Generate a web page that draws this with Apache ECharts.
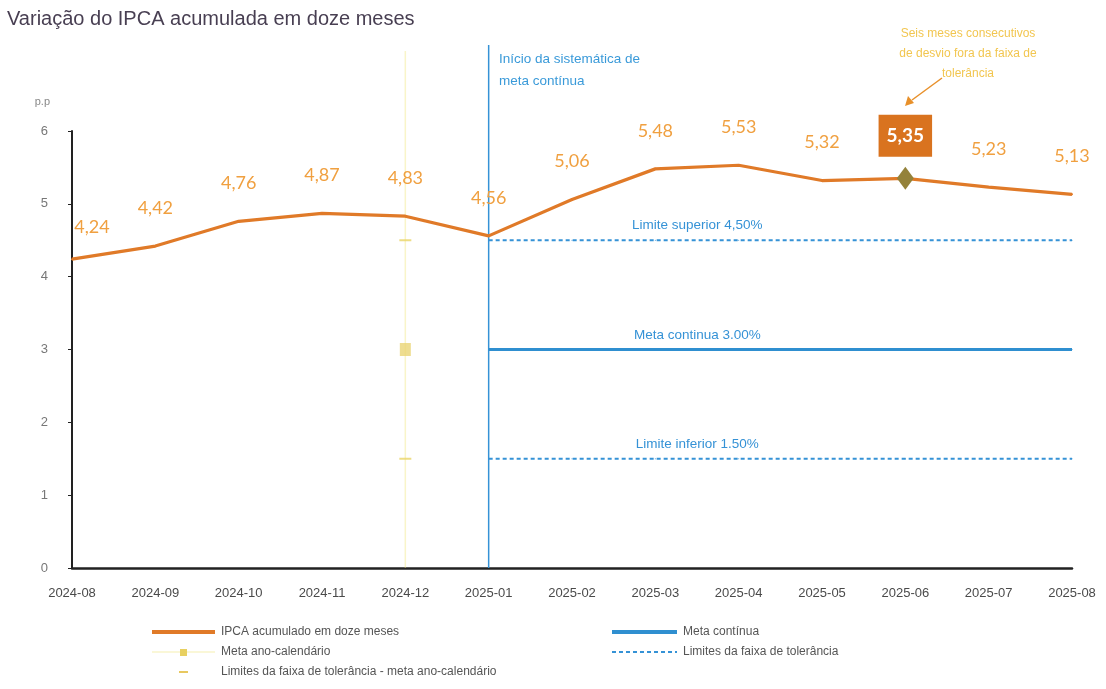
<!DOCTYPE html>
<html><head><meta charset="utf-8">
<script src="https://cdn.jsdelivr.net/npm/echarts@6/dist/echarts.min.js"></script>
<style>html,body{margin:0;padding:0;background:#fff}#c{width:1106px;height:689px}</style>
</head><body><div id="c"></div>
<script>
const categories = ['2024-08','2024-09','2024-10','2024-11','2024-12','2025-01','2025-02','2025-03','2025-04','2025-05','2025-06','2025-07','2025-08'];
const ipca = [4.24,4.42,4.76,4.87,4.83,4.56,5.06,5.48,5.53,5.32,5.35,5.23,5.13];
const metaContinua = [null,null,null,null,null,3,3,3,3,3,3,3,3];
const limiteSuperior = [null,null,null,null,null,4.5,4.5,4.5,4.5,4.5,4.5,4.5,4.5];
const limiteInferior = [null,null,null,null,null,1.5,1.5,1.5,1.5,1.5,1.5,1.5,1.5];
const metaAnoCalendario = [null,null,null,null,3,null,null,null,null,null,null,null,null];
const limitesAnoSup = [null,null,null,null,4.5,null,null,null,null,null,null,null,null];
const limitesAnoInf = [null,null,null,null,1.5,null,null,null,null,null,null,null,null];
const yTicks = {min:0, max:6, interval:1};
const highlightIdx = 10;
const transitionIdx = 5;
const anoCalIdx = 4;
const refLabelIdx = 7;

const ORANGE = '#e07a28', LABEL = '#f0a040', BLUE = '#3592d6', YEL = '#ead466';
const fmt = v => String(v.toFixed(2)).replace('.', ',');

const ipcaData = ipca.map((v,i) => {
  if (i === highlightIdx) return {value:v, symbol:'diamond', symbolSize:[17,23], itemStyle:{color:'#94823a'},
    label:{show:true, formatter:fmt(v), color:'#fff', fontWeight:'bold', fontSize:19, backgroundColor:'#d9731f', padding:[12,8,11,8], distance:10}};
  if (i === 0) return {value:v, label:{offset:[20,6]}};
  return v;
});
function refData(arr, text){
  return arr.map((v,i)=> i===refLabelIdx ? {value:v, label:{show:true, formatter:text, position:'top', offset:[42,-2], color:BLUE, fontSize:13.5, fontFamily:'Liberation Sans'}} : v);
}
function vline(idx, top){ return [[idx,0],[idx,top]]; }

const chart = echarts.init(document.getElementById('c'), null, {renderer:'canvas'});
const legendTxt = {fill:'#555', font:'12px "Liberation Sans"', verticalAlign:'middle'};
chart.setOption({
  animation:false,
  grid:{left:72, right:34, top:131, bottom:121, containLabel:false},
  xAxis:{type:'category', data:categories, boundaryGap:false,
    axisLine:{lineStyle:{color:'#222', width:2.5}}, axisTick:{show:false},
    axisLabel:{color:'#4a4a4a', fontSize:13, fontFamily:'Liberation Sans', margin:19}},
  yAxis:{type:'value', min:yTicks.min, max:yTicks.max, interval:yTicks.interval,
    name:'p.p', nameGap:24, nameTextStyle:{color:'#888', fontSize:11, align:'right', padding:[0,22,0,0], fontFamily:'Liberation Sans'},
    axisLine:{show:true, lineStyle:{color:'#222', width:2}}, axisTick:{show:true, length:4, lineStyle:{color:'#222'}},
    splitLine:{show:false}, axisLabel:{color:'#777', fontSize:13, margin:24, fontFamily:'Liberation Sans'}},
  series:[
    {type:'line', name:'anoCalVline', data:vline(anoCalIdx, 7.1), clip:false, symbol:'none', silent:true,
      lineStyle:{color:'rgba(240,230,120,0.4)', width:1.5}, z:1},
    {type:'line', name:'transVline', data:vline(transitionIdx, 7.18), clip:false, symbol:'none', silent:true,
      lineStyle:{color:BLUE, width:1.5}, z:1},
    {type:'line', name:'Limites da faixa de tolerância', data:refData(limiteSuperior,'Limite superior 4,50%'), symbol:'circle', symbolSize:1,
      itemStyle:{color:BLUE}, lineStyle:{color:BLUE, width:2.2, type:[4,3]}, z:2},
    {type:'line', name:'Limites da faixa de tolerância', data:refData(limiteInferior,'Limite inferior 1.50%'), symbol:'circle', symbolSize:1,
      itemStyle:{color:BLUE}, lineStyle:{color:BLUE, width:2.2, type:[4,3]}, z:2},
    {type:'line', name:'Meta contínua', data:refData(metaContinua,'Meta continua 3.00%'), symbol:'circle', symbolSize:1,
      itemStyle:{color:'#2f8fd0'}, lineStyle:{color:'#2f8fd0', width:3}, z:2},
    {type:'scatter', name:'Meta ano-calendário', data:metaAnoCalendario, symbol:'rect', symbolSize:[11,13], itemStyle:{color:'#ead574'}, z:3},
    {type:'scatter', name:'Limites da faixa de tolerância - meta ano-calendário', data:limitesAnoSup, symbol:'rect', symbolSize:[12,2], itemStyle:{color:YEL}, z:3},
    {type:'scatter', name:'Limites da faixa de tolerância - meta ano-calendário', data:limitesAnoInf, symbol:'rect', symbolSize:[12,2], itemStyle:{color:YEL}, z:3},
    {type:'line', name:'IPCA acumulado em doze meses', data:ipcaData, symbol:'circle', symbolSize:2, showSymbol:true,
      itemStyle:{color:ORANGE}, lineStyle:{color:ORANGE, width:3.2}, z:5,
      label:{show:true, position:'top', distance:28, color:LABEL, fontSize:18, fontFamily:'Lato', formatter:p=>fmt(p.value)}}
  ],
  graphic:[
    {type:'text', left:7, top:9, style:{text:'Variação do IPCA acumulada em doze meses', fill:'#483f52', font:'20px "Liberation Sans"'}},
    {type:'text', left:499, top:48, style:{text:'Início da sistemática de\nmeta contínua', fill:'#3a9ad9', font:'13.5px "Liberation Sans"', lineHeight:22}},
    {type:'text', x:968, y:24, style:{text:'Seis meses consecutivos\nde desvio fora da faixa de\ntolerância', fill:'#f2c650', font:'12px "Liberation Sans"', align:'center', lineHeight:20}},
    {type:'line', shape:{x1:942, y1:78, x2:912, y2:100}, style:{stroke:'#e8902a', lineWidth:1.5}},
    {type:'polygon', shape:{points:[[905,106],[908,96],[914,103]]}, style:{fill:'#e8902a'}},
    // legend
    {type:'line', shape:{x1:152,y1:632,x2:215,y2:632}, style:{stroke:ORANGE, lineWidth:4}},
    {type:'text', x:221, y:632, style:Object.assign({text:'IPCA acumulado em doze meses'}, legendTxt)},
    {type:'line', shape:{x1:152,y1:652,x2:215,y2:652}, style:{stroke:'#f6efb0', lineWidth:1.2}},
    {type:'rect', shape:{x:180,y:649,width:7,height:7}, style:{fill:'#e8d060'}},
    {type:'text', x:221, y:652, style:Object.assign({text:'Meta ano-calendário'}, legendTxt)},
    {type:'line', shape:{x1:179,y1:672,x2:188,y2:672}, style:{stroke:'#e8c860', lineWidth:2}},
    {type:'text', x:221, y:672, style:Object.assign({text:'Limites da faixa de tolerância - meta ano-calendário'}, legendTxt)},
    {type:'line', shape:{x1:612,y1:632,x2:677,y2:632}, style:{stroke:'#2f8fd0', lineWidth:4}},
    {type:'text', x:683, y:632, style:Object.assign({text:'Meta contínua'}, legendTxt)},
    {type:'line', shape:{x1:612,y1:652,x2:677,y2:652}, style:{stroke:BLUE, lineWidth:2, lineDash:[4,3]}},
    {type:'text', x:683, y:652, style:Object.assign({text:'Limites da faixa de tolerância'}, legendTxt)}
  ]
});
</script></body></html>
